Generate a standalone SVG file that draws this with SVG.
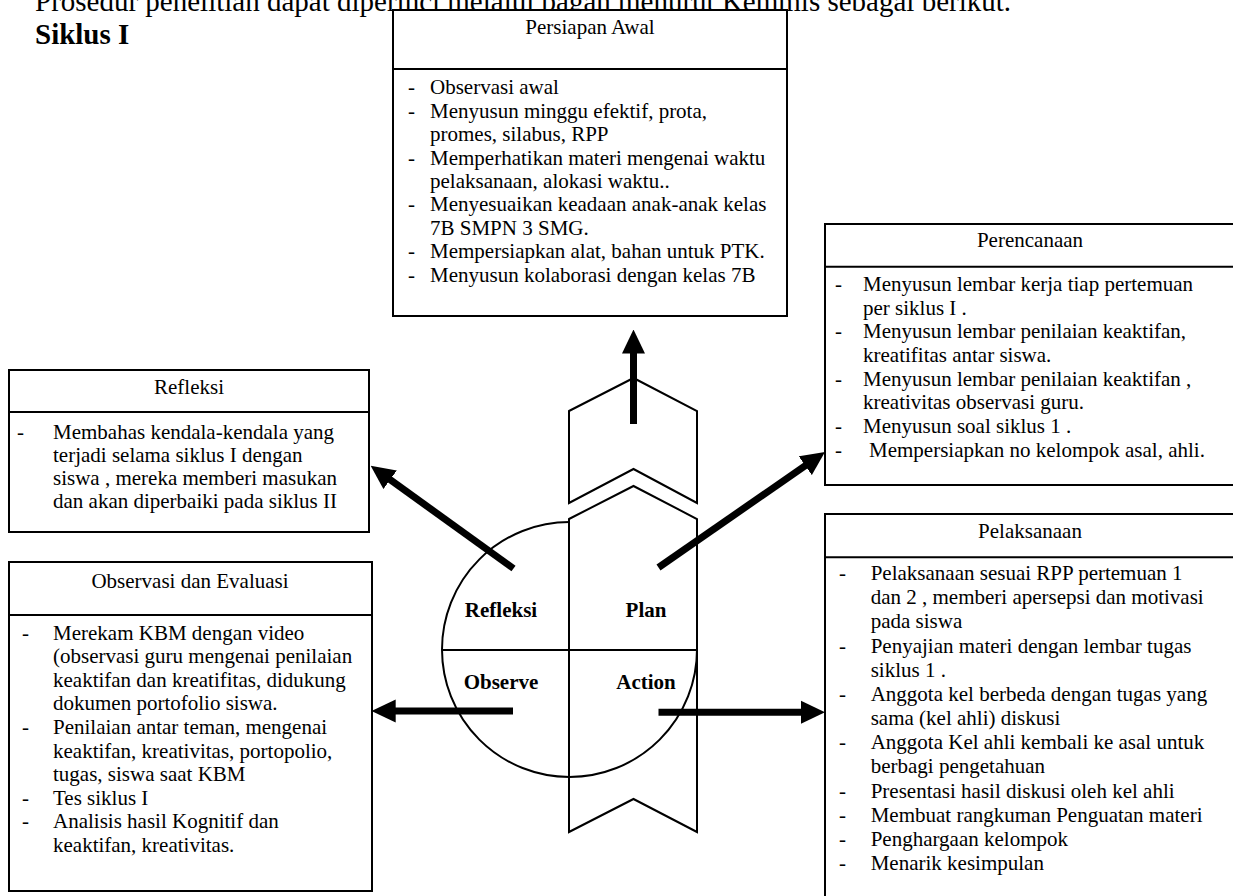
<svg xmlns="http://www.w3.org/2000/svg" width="1233" height="896" viewBox="0 0 1233 896">
<style>
.t{font-family:"Liberation Serif","Times New Roman",serif;font-size:21px;fill:#000}
.big{font-family:"Liberation Serif","Times New Roman",serif;font-size:29px;fill:#000}
.b{font-weight:bold}
.mid{text-anchor:middle}
.box{fill:#fff;stroke:#000;stroke-width:2}
.div{stroke:#000;stroke-width:2}
.shape{fill:none;stroke:#000;stroke-width:2}
.arr{fill:none;stroke:#000;stroke-width:7;marker-end:url(#ah)}
</style>
<defs>
<marker id="ah" markerUnits="userSpaceOnUse" markerWidth="24" markerHeight="24" viewBox="0 0 24 24" refX="12" refY="12" orient="auto">
<path d="M0,0.5 L24,12 L0,23.5 Z" fill="#000"/>
</marker>
</defs>
<rect width="1233" height="896" fill="#fff"/>
<text class="big" x="35" y="11">Prosedur penelitian dapat diperinci melalui bagan menurut Kemmis sebagai berikut.</text>
<text class="big b" x="35" y="44">Siklus I</text>

<g id="siklus">
<path class="shape" d="M569.5,522 A127.5,127.5 0 0 0 569.5,777"/>
<path class="shape" d="M697,649.5 A127.5,127.5 0 0 1 569.5,777"/>
<path class="shape" d="M442,650 H697"/>
<polygon class="shape" points="569,519 633.5,486 697,519 697,832 633.5,799 569,832"/>
<polygon class="shape" points="569,411 633.5,378 697,411 697,503 633.5,469 569,503"/>
<text class="t b mid" x="501" y="617">Refleksi</text>
<text class="t b mid" x="646" y="617">Plan</text>
<text class="t b mid" x="501" y="688.5">Observe</text>
<text class="t b mid" x="646" y="689">Action</text>
</g>

<g id="persiapan">
<rect class="box" x="393" y="10" width="394" height="306"/>
<line class="div" x1="393" y1="69" x2="787" y2="69"/>
<text class="t mid" x="590" y="34">Persiapan Awal</text>
<text class="t" x="408"><tspan x="408" y="94.3">-</tspan><tspan x="408" y="117.7">-</tspan><tspan x="408" y="164.5">-</tspan><tspan x="408" y="211.3">-</tspan><tspan x="408" y="258.1">-</tspan><tspan x="408" y="281.5">-</tspan></text>
<text class="t"><tspan x="430" y="94.3">Observasi awal</tspan><tspan x="430" y="117.7">Menyusun minggu efektif, prota,</tspan><tspan x="430" y="141.1">promes, silabus, RPP</tspan><tspan x="430" y="164.5">Memperhatikan materi mengenai waktu</tspan><tspan x="430" y="187.9">pelaksanaan, alokasi waktu..</tspan><tspan x="430" y="211.3">Menyesuaikan keadaan anak-anak kelas</tspan><tspan x="430" y="234.7">7B SMPN 3 SMG.</tspan><tspan x="430" y="258.1">Mempersiapkan alat, bahan untuk PTK.</tspan><tspan x="430" y="281.5">Menyusun kolaborasi dengan kelas 7B</tspan></text>
</g>

<g id="refleksi">
<rect class="box" x="9" y="370" width="360" height="162"/>
<line class="div" x1="9" y1="412" x2="369" y2="412"/>
<text class="t mid" x="189" y="394">Refleksi</text>
<text class="t" x="17" y="438.5">-</text>
<text class="t"><tspan x="53" y="438.5">Membahas kendala-kendala yang</tspan><tspan x="53" y="461.8">terjadi selama siklus I dengan</tspan><tspan x="53" y="485.1">siswa , mereka memberi masukan</tspan><tspan x="53" y="508.4">dan akan diperbaiki pada siklus II</tspan></text>
</g>

<g id="observasi">
<rect class="box" x="9" y="562" width="363" height="329"/>
<line class="div" x1="9" y1="615" x2="372" y2="615"/>
<text class="t mid" x="190" y="587.5">Observasi dan Evaluasi</text>
<text class="t"><tspan x="22" y="639.5">-</tspan><tspan x="22" y="733.9">-</tspan><tspan x="22" y="804.7">-</tspan><tspan x="22" y="828.3">-</tspan></text>
<text class="t"><tspan x="53" y="639.5">Merekam KBM dengan video</tspan><tspan x="53" y="663.1">(observasi guru mengenai penilaian</tspan><tspan x="53" y="686.7">keaktifan dan kreatifitas, didukung</tspan><tspan x="53" y="710.3">dokumen portofolio siswa.</tspan><tspan x="53" y="733.9">Penilaian antar teman, mengenai</tspan><tspan x="53" y="757.5">keaktifan, kreativitas, portopolio,</tspan><tspan x="53" y="781.1">tugas, siswa saat KBM</tspan><tspan x="53" y="804.7">Tes siklus I</tspan><tspan x="53" y="828.3">Analisis hasil Kognitif dan</tspan><tspan x="53" y="851.9">keaktifan, kreativitas.</tspan></text>
</g>

<g id="perencanaan">
<rect class="box" x="825" y="224" width="414" height="261"/>
<line class="div" x1="825" y1="266.7" x2="1239" y2="266.7"/>
<text class="t mid" x="1030" y="247">Perencanaan</text>
<text class="t"><tspan x="835" y="291">-</tspan><tspan x="835" y="338.3">-</tspan><tspan x="835" y="385.6">-</tspan><tspan x="835" y="432.9">-</tspan><tspan x="835" y="456.6">-</tspan></text>
<text class="t"><tspan x="863" y="291">Menyusun lembar kerja tiap pertemuan</tspan><tspan x="863" y="314.7">per siklus I .</tspan><tspan x="863" y="338.3">Menyusun lembar penilaian keaktifan,</tspan><tspan x="863" y="362">kreatifitas antar siswa.</tspan><tspan x="863" y="385.6">Menyusun lembar penilaian keaktifan ,</tspan><tspan x="863" y="409.3">kreativitas observasi guru.</tspan><tspan x="863" y="432.9">Menyusun soal siklus 1 .</tspan><tspan x="869" y="456.6">Mempersiapkan no kelompok asal, ahli.</tspan></text>
</g>

<g id="pelaksanaan">
<rect class="box" x="825" y="514" width="414" height="400"/>
<line class="div" x1="825" y1="557.3" x2="1239" y2="557.3"/>
<text class="t mid" x="1030" y="538.3">Pelaksanaan</text>
<text class="t"><tspan x="839" y="580">-</tspan><tspan x="839" y="652.5">-</tspan><tspan x="839" y="700.9">-</tspan><tspan x="839" y="749.2">-</tspan><tspan x="839" y="797.5">-</tspan><tspan x="839" y="821.7">-</tspan><tspan x="839" y="845.9">-</tspan><tspan x="839" y="870">-</tspan></text>
<text class="t"><tspan x="870.7" y="580">Pelaksanaan sesuai RPP pertemuan 1</tspan><tspan x="870.7" y="604.2">dan 2 , memberi apersepsi dan motivasi</tspan><tspan x="870.7" y="628.3">pada siswa</tspan><tspan x="870.7" y="652.5">Penyajian materi dengan lembar tugas</tspan><tspan x="870.7" y="676.7">siklus 1 .</tspan><tspan x="870.7" y="700.9">Anggota kel berbeda dengan tugas yang</tspan><tspan x="870.7" y="725">sama (kel ahli) diskusi</tspan><tspan x="870.7" y="749.2">Anggota Kel ahli kembali ke asal untuk</tspan><tspan x="870.7" y="773.4">berbagi pengetahuan</tspan><tspan x="870.7" y="797.5">Presentasi hasil diskusi oleh kel ahli</tspan><tspan x="870.7" y="821.7">Membuat rangkuman Penguatan materi</tspan><tspan x="870.7" y="845.9">Penghargaan kelompok</tspan><tspan x="870.7" y="870">Menarik kesimpulan</tspan></text>
</g>

<g id="connectors">
<path class="arr" d="M633.5,424 L633.5,341.5"/>
<path class="arr" d="M513.5,568.5 L380.4,472.7"/>
<path class="arr" d="M658.5,567.5 L815.1,458.8"/>
<path class="arr" d="M658.5,712.3 L813,712.3"/>
<path class="arr" d="M513,711 L383.7,711"/>
</g>
</svg>
